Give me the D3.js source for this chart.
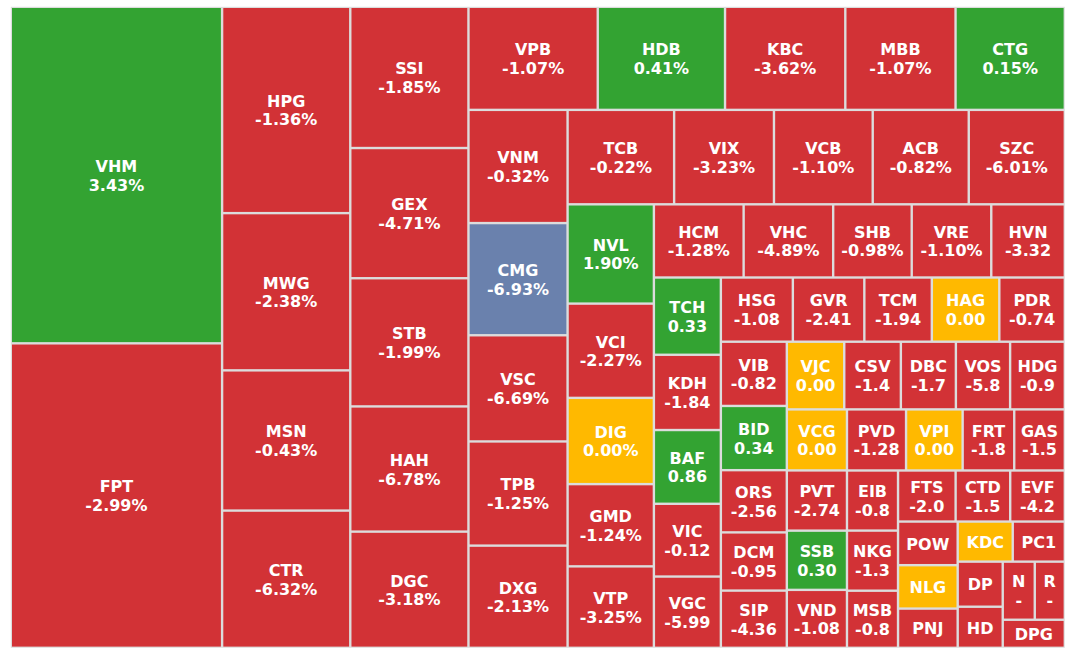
<!DOCTYPE html>
<html lang="en">
<head>
    <meta charset="UTF-8">
    <title>Stock heatmap</title>
    <script type="text/javascript" src="https://cdn.jsdelivr.net/npm/d3@7"></script>
    <style>
        body { margin: 0; background: #fff; }
        .cell text {
            font-family: Verdana, "DejaVu Sans", sans-serif;
            font-weight: bold;
            font-size: 16px;
            fill: #fff;
            text-anchor: middle;
        }
    </style>
</head>
<body>
    <div id="chart"></div>

    <script type="text/javascript">

        // tickers in the order the map lays them out
        var tickers = ["VHM", "FPT", "HPG", "MWG", "MSN", "CTR", "SSI", "GEX", "STB", "HAH", "DGC",
            "VPB", "HDB", "KBC", "MBB", "CTG", "VNM", "CMG", "VSC", "TPB", "DXG",
            "TCB", "VIX", "VCB", "ACB", "SZC", "NVL", "VCI", "DIG", "GMD", "VTP",
            "HCM", "VHC", "SHB", "VRE", "HVN", "TCH", "KDH", "BAF", "VIC", "VGC",
            "HSG", "GVR", "TCM", "HAG", "PDR", "VIB", "BID", "ORS", "DCM", "SIP",
            "VJC", "CSV", "DBC", "VOS", "HDG", "VCG", "PVT", "SSB", "VND",
            "PVD", "VPI", "FRT", "GAS", "EIB", "NKG", "MSB", "FTS", "CTD", "EVF",
            "POW", "NLG", "PNJ", "KDC", "PC1", "DP", "HD", "N", "R", "DPG"];

        // cell weights
        var sizes = [70896, 64144, 26368, 20096, 17920, 17536, 16638, 15340, 15104, 14750, 13688,
            13287, 13081, 12360, 11330, 11227, 11187, 11088, 10494, 10296, 10098,
            10032, 9401, 9298, 9043, 9043, 8544, 8112, 7422, 7077, 7008,
            6548, 6534, 5731, 5804, 5366, 5159, 5025, 4925, 4858, 4757,
            4608, 4576, 4320, 4320, 4192, 4224, 4224, 4092, 3828, 3762,
            3875, 3821, 3713, 3660, 3690, 3660, 3612, 3552, 3474,
            3599, 3447, 3142, 3080, 3060, 3060, 2907, 2932, 2780, 2780,
            2594, 2582, 2332, 2200, 2080, 2025, 1845, 1856, 1740, 1736];

        // % change (hidden ones estimated from colour)
        var changes = [3.43, -2.99, -1.36, -2.38, -0.43, -6.32, -1.85, -4.71, -1.99, -6.78, -3.18,
            -1.07, 0.41, -3.62, -1.07, 0.15, -0.32, -6.93, -6.69, -1.25, -2.13,
            -0.22, -3.23, -1.10, -0.82, -6.01, 1.90, -2.27, 0.00, -1.24, -3.25,
            -1.28, -4.89, -0.98, -1.10, -3.32, 0.33, -1.84, 0.86, -0.12, -5.99,
            -1.08, -2.41, -1.94, 0.00, -0.74, -0.82, 0.34, -2.56, -0.95, -4.36,
            0.00, -1.4, -1.7, -5.8, -0.9, 0.00, -2.74, 0.30, -1.08,
            -1.28, 0.00, -1.8, -1.5, -0.8, -1.3, -0.8, -2.0, -1.5, -4.2,
            -1.0, 0.00, -1.0, 0.00, -1.0, -1.0, -1.0, -1.0, -1.0, -1.0];

        // change text as printed in each cell ("" = not shown)
        var changeLabels = ["3.43%", "-2.99%", "-1.36%", "-2.38%", "-0.43%", "-6.32%", "-1.85%", "-4.71%", "-1.99%", "-6.78%", "-3.18%",
            "-1.07%", "0.41%", "-3.62%", "-1.07%", "0.15%", "-0.32%", "-6.93%", "-6.69%", "-1.25%", "-2.13%",
            "-0.22%", "-3.23%", "-1.10%", "-0.82%", "-6.01%", "1.90%", "-2.27%", "0.00%", "-1.24%", "-3.25%",
            "-1.28%", "-4.89%", "-0.98%", "-1.10%", "-3.32", "0.33", "-1.84", "0.86", "-0.12", "-5.99",
            "-1.08", "-2.41", "-1.94", "0.00", "-0.74", "-0.82", "0.34", "-2.56", "-0.95", "-4.36",
            "0.00", "-1.4", "-1.7", "-5.8", "-0.9", "0.00", "-2.74", "0.30", "-1.08",
            "-1.28", "0.00", "-1.8", "-1.5", "-0.8", "-1.3", "-0.8", "-2.0", "-1.5", "-4.2",
            "", "", "", "", "", "", "", "-", "-", ""];

        var floorTickers = ["CMG"];

        var w = 1072,
            h = 661;
        var mapX = 10.8, mapY = 6.8, mapW = 1054, mapH = 641;

        function cellColor(d) {
            if (floorTickers.indexOf(d.ticker) >= 0) return "#6a81ad";
            if (d.change > 0) return "#33a332";
            if (d.change < 0) return "#d23236";
            return "#ffb900";
        }

        // squarified rows, a row keeps growing while the cell just added
        // is at least as square as the one added before it
        function tileLastCell(parent, x0, y0, x1, y1) {
            var nodes = parent.children, n = nodes.length, value = parent.value, i0 = 0;
            while (i0 < n) {
                var dx = x1 - x0, dy = y1 - y0;
                var side = Math.min(dx, dy), k = dx * dy / value;
                var lastRatio = function(sum, v) {
                    var t = sum * k / side, l = v * k / t;
                    return Math.max(t / l, l / t);
                };
                var sum = nodes[i0].value, i1 = i0 + 1;
                var best = lastRatio(sum, sum);
                while (i1 < n) {
                    var s = sum + nodes[i1].value;
                    var r = lastRatio(s, nodes[i1].value);
                    if (r > best) break;
                    sum = s; best = r; i1++;
                }
                var row = {value: sum, children: nodes.slice(i0, i1)};
                if (i1 >= n) {
                    if (dx < dy) d3.treemapDice(row, x0, y0, x1, y1);
                    else d3.treemapSlice(row, x0, y0, x1, y1);
                } else if (dx < dy) {
                    d3.treemapDice(row, x0, y0, x1, y0 + dy * sum / value);
                    y0 += dy * sum / value;
                } else {
                    d3.treemapSlice(row, x0, y0, x0 + dx * sum / value, y1);
                    x0 += dx * sum / value;
                }
                value -= sum;
                i0 = i1;
            }
        }

        var data = tickers.map(function(t, i) {
            return {ticker: t, size: sizes[i], change: changes[i], label: changeLabels[i]};
        });

        var root = d3.hierarchy({children: data}).sum(function(d) { return d.size || 0; });

        d3.treemap()
            .size([mapW, mapH])
            .tile(tileLastCell)(root);

        var svg = d3.select("#chart")
            .append("svg")
            .attr("width", w)
            .attr("height", h);

        var g = svg.append("g")
            .attr("transform", "translate(" + mapX + "," + mapY + ")");

        // grey backing shows through as the cell borders
        g.append("rect")
            .attr("width", mapW)
            .attr("height", mapH)
            .attr("fill", "#dcdcdc");

        var inset = 1.2;

        var cells = g.selectAll(".cell")
            .data(root.leaves())
            .enter()
            .append("g")
            .attr("class", "cell");

        cells.append("rect")
            .attr("x", function(d) { return d.x0 + inset; })
            .attr("y", function(d) { return d.y0 + inset; })
            .attr("width", function(d) { return Math.max(0, d.x1 - d.x0 - 2 * inset); })
            .attr("height", function(d) { return Math.max(0, d.y1 - d.y0 - 2 * inset); })
            .attr("fill", function(d) { return cellColor(d.data); });

        cells.append("text")
            .attr("x", function(d) { return (d.x0 + d.x1) / 2; })
            .attr("y", function(d) {
                var cy = (d.y0 + d.y1) / 2;
                return d.data.label ? cy - 3.2 : cy + 6.3;
            })
            .text(function(d) { return d.data.ticker; });

        cells.filter(function(d) { return d.data.label; })
            .append("text")
            .attr("x", function(d) { return (d.x0 + d.x1) / 2; })
            .attr("y", function(d) { return (d.y0 + d.y1) / 2 + 15.5; })
            .text(function(d) { return d.data.label; });
    </script>
</body>
</html>
